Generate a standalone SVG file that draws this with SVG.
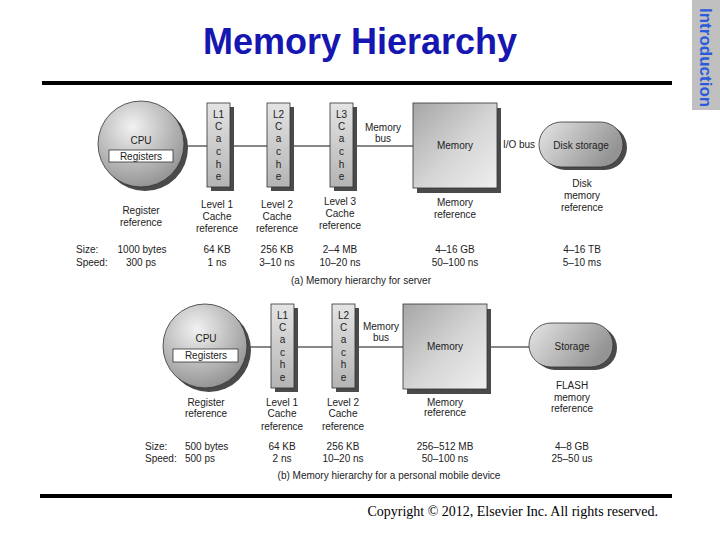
<svg xmlns="http://www.w3.org/2000/svg" width="720" height="540" viewBox="0 0 720 540">
<defs>
<style>
.t{font-family:"Liberation Sans",Arial,sans-serif;font-size:10px;fill:#222;text-anchor:middle}
.tl{font-family:"Liberation Sans",Arial,sans-serif;font-size:10px;fill:#222}
.sh{fill:#4a4a4a}
.ln{stroke:#111;stroke-width:1;fill:none}
.cpu{fill:url(#cpuG);stroke:#333;stroke-width:0.8}
.cache{fill:url(#cacheG);stroke:#333;stroke-width:0.8}
.mem{fill:url(#memG);stroke:#333;stroke-width:0.8}
.disk{fill:url(#diskG);stroke:#333;stroke-width:0.8}
.reg{fill:#fff;stroke:#333;stroke-width:0.8}
</style>
<radialGradient id="cpuG" cx="0.4" cy="0.3" r="0.75">
<stop offset="0" stop-color="#f2f2f2"/>
<stop offset="1" stop-color="#8f8f8f"/>
</radialGradient>
<linearGradient id="cacheG" x1="0" y1="0" x2="0" y2="1">
<stop offset="0" stop-color="#e4e4e4"/>
<stop offset="1" stop-color="#b4b4b4"/>
</linearGradient>
<linearGradient id="memG" x1="0" y1="0" x2="1" y2="1">
<stop offset="0" stop-color="#a6a6a6"/>
<stop offset="0.55" stop-color="#d6d6d6"/>
<stop offset="1" stop-color="#efefef"/>
</linearGradient>
<linearGradient id="diskG" x1="0" y1="0" x2="1" y2="0.4">
<stop offset="0" stop-color="#e6e6e6"/>
<stop offset="1" stop-color="#949494"/>
</linearGradient>
</defs>
<rect width="720" height="540" fill="#fff"/>

<g id="sidebar">
<rect x="692" y="0" width="28" height="110" fill="#c0c0c0"/>
<text transform="translate(700,8) rotate(90)" font-family="Liberation Sans,Arial,sans-serif" font-size="17" font-weight="bold" fill="#2b5bdc">Introduction</text>
</g>

<g id="title">
<text x="360" y="54" text-anchor="middle" font-family="Liberation Sans,Arial,sans-serif" font-size="36" font-weight="bold" fill="#1616b0">Memory Hierarchy</text>
<rect x="42" y="81" width="630" height="4" fill="#000"/>
</g>

<g id="connectors">
<line class="ln" x1="184" y1="146" x2="207" y2="146"/>
<line class="ln" x1="234" y1="146" x2="267" y2="146"/>
<line class="ln" x1="294" y1="146" x2="330" y2="146"/>
<line class="ln" x1="357" y1="146" x2="413" y2="146"/>
<line class="ln" x1="246" y1="347" x2="271" y2="347"/>
<line class="ln" x1="298" y1="347" x2="332" y2="347"/>
<line class="ln" x1="359" y1="347" x2="403" y2="347"/>
<line class="ln" x1="491" y1="347" x2="529" y2="347"/>
</g>

<!-- (a) server -->
<g id="cpuA">
<circle class="sh" cx="145" cy="148" r="43"/>
<circle class="cpu" cx="141" cy="144" r="43"/>
<text class="t" x="141" y="144">CPU</text>
<rect class="reg" x="109" y="150" width="64" height="12"/>
<text class="t" x="141" y="160">Registers</text>
</g>
<g id="l1A">
<rect class="sh" x="211" y="107" width="23" height="84"/>
<rect class="cache" x="207" y="103" width="23" height="84"/>
<text class="t" x="218.5" y="118">L1</text>
<text class="t" x="218.5" y="130">C</text>
<text class="t" x="218.5" y="142">a</text>
<text class="t" x="218.5" y="155">c</text>
<text class="t" x="218.5" y="168">h</text>
<text class="t" x="218.5" y="180">e</text>
</g>
<g id="l2A">
<rect class="sh" x="271" y="107" width="23" height="84"/>
<rect class="cache" x="267" y="103" width="23" height="84"/>
<text class="t" x="278.5" y="118">L2</text>
<text class="t" x="278.5" y="130">C</text>
<text class="t" x="278.5" y="142">a</text>
<text class="t" x="278.5" y="155">c</text>
<text class="t" x="278.5" y="168">h</text>
<text class="t" x="278.5" y="180">e</text>
</g>
<g id="l3A">
<rect class="sh" x="334" y="107" width="23" height="84"/>
<rect class="cache" x="330" y="103" width="23" height="84"/>
<text class="t" x="341.5" y="118">L3</text>
<text class="t" x="341.5" y="130">C</text>
<text class="t" x="341.5" y="142">a</text>
<text class="t" x="341.5" y="155">c</text>
<text class="t" x="341.5" y="168">h</text>
<text class="t" x="341.5" y="180">e</text>
</g>
<g id="busA">
<text class="t" x="383" y="131">Memory</text>
<text class="t" x="383" y="142">bus</text>
</g>
<g id="memA">
<rect class="sh" x="417" y="108" width="84" height="85"/>
<rect class="mem" x="413" y="103" width="84" height="85"/>
<text class="t" x="455" y="149">Memory</text>
</g>
<g id="iobusA">
<text class="t" x="519" y="148">I/O bus</text>
</g>
<g id="diskA">
<rect class="sh" x="543" y="125" width="84" height="45" rx="22.5"/>
<rect class="disk" x="539" y="122" width="84" height="45" rx="22.5"/>
<text class="t" x="581" y="149">Disk storage</text>
</g>
<g id="labelsA">
<text class="t" x="141" y="214">Register</text>
<text class="t" x="141" y="226">reference</text>
<text class="t" x="217" y="208">Level 1</text>
<text class="t" x="217" y="220">Cache</text>
<text class="t" x="217" y="232">reference</text>
<text class="t" x="277" y="208">Level 2</text>
<text class="t" x="277" y="220">Cache</text>
<text class="t" x="277" y="232">reference</text>
<text class="t" x="340" y="205">Level 3</text>
<text class="t" x="340" y="217">Cache</text>
<text class="t" x="340" y="229">reference</text>
<text class="t" x="455" y="206">Memory</text>
<text class="t" x="455" y="218">reference</text>
<text class="t" x="582" y="187">Disk</text>
<text class="t" x="582" y="199">memory</text>
<text class="t" x="582" y="211">reference</text>
<text class="tl" x="76" y="253">Size:</text>
<text class="tl" x="76" y="266">Speed:</text>
<text class="t" x="142" y="253">1000 bytes</text>
<text class="t" x="141" y="266">300 ps</text>
<text class="t" x="217" y="253">64 KB</text>
<text class="t" x="217" y="266">1 ns</text>
<text class="t" x="277" y="253">256 KB</text>
<text class="t" x="277" y="266">3–10 ns</text>
<text class="t" x="340" y="253">2–4 MB</text>
<text class="t" x="340" y="266">10–20 ns</text>
<text class="t" x="455" y="253">4–16 GB</text>
<text class="t" x="455" y="266">50–100 ns</text>
<text class="t" x="582" y="253">4–16 TB</text>
<text class="t" x="582" y="266">5–10 ms</text>
<text class="t" x="361" y="284">(a) Memory hierarchy for server</text>
</g>

<!-- (b) personal mobile device -->
<g id="cpuB">
<circle class="sh" cx="209" cy="350" r="42"/>
<circle class="cpu" cx="205" cy="346" r="42"/>
<text class="t" x="206" y="342">CPU</text>
<rect class="reg" x="173" y="349" width="65" height="13"/>
<text class="t" x="206" y="359">Registers</text>
</g>
<g id="l1B">
<rect class="sh" x="275" y="308" width="23" height="84"/>
<rect class="cache" x="271" y="304" width="23" height="84"/>
<text class="t" x="282.5" y="319">L1</text>
<text class="t" x="282.5" y="331">C</text>
<text class="t" x="282.5" y="343">a</text>
<text class="t" x="282.5" y="356">c</text>
<text class="t" x="282.5" y="368">h</text>
<text class="t" x="282.5" y="381">e</text>
</g>
<g id="l2B">
<rect class="sh" x="336" y="308" width="23" height="84"/>
<rect class="cache" x="332" y="304" width="23" height="84"/>
<text class="t" x="343.5" y="319">L2</text>
<text class="t" x="343.5" y="331">C</text>
<text class="t" x="343.5" y="343">a</text>
<text class="t" x="343.5" y="356">c</text>
<text class="t" x="343.5" y="368">h</text>
<text class="t" x="343.5" y="381">e</text>
</g>
<g id="busB">
<text class="t" x="381" y="330">Memory</text>
<text class="t" x="381" y="341">bus</text>
</g>
<g id="memB">
<rect class="sh" x="407" y="309" width="84" height="85"/>
<rect class="mem" x="403" y="304" width="84" height="85"/>
<text class="t" x="445" y="350">Memory</text>
</g>
<g id="storageB">
<rect class="sh" x="533" y="326" width="84" height="44" rx="22"/>
<rect class="disk" x="529" y="323" width="84" height="44" rx="22"/>
<text class="t" x="572" y="350">Storage</text>
</g>
<g id="labelsB">
<text class="t" x="206" y="406">Register</text>
<text class="t" x="206" y="417">reference</text>
<text class="t" x="282" y="406">Level 1</text>
<text class="t" x="282" y="417">Cache</text>
<text class="t" x="282" y="430">reference</text>
<text class="t" x="343" y="406">Level 2</text>
<text class="t" x="343" y="417">Cache</text>
<text class="t" x="343" y="430">reference</text>
<text class="t" x="445" y="406">Memory</text>
<text class="t" x="445" y="416">reference</text>
<text class="t" x="572" y="389">FLASH</text>
<text class="t" x="572" y="401">memory</text>
<text class="t" x="572" y="412">reference</text>
<text class="tl" x="145" y="450">Size:</text>
<text class="tl" x="145" y="462">Speed:</text>
<text class="tl" x="185" y="450">500 bytes</text>
<text class="tl" x="185" y="462">500 ps</text>
<text class="t" x="282" y="450">64 KB</text>
<text class="t" x="282" y="462">2 ns</text>
<text class="t" x="343" y="450">256 KB</text>
<text class="t" x="343" y="462">10–20 ns</text>
<text class="t" x="445" y="450">256–512 MB</text>
<text class="t" x="445" y="462">50–100 ns</text>
<text class="t" x="572" y="450">4–8 GB</text>
<text class="t" x="572" y="462">25–50 us</text>
<text class="t" x="389" y="479">(b) Memory hierarchy for a personal mobile device</text>
</g>

<g id="footer">
<rect x="40" y="494" width="632" height="4" fill="#000"/>
<text x="658" y="516" text-anchor="end" font-family="Liberation Serif,Times New Roman,serif" font-size="14" fill="#000">Copyright © 2012, Elsevier Inc. All rights reserved.</text>
</g>
</svg>
